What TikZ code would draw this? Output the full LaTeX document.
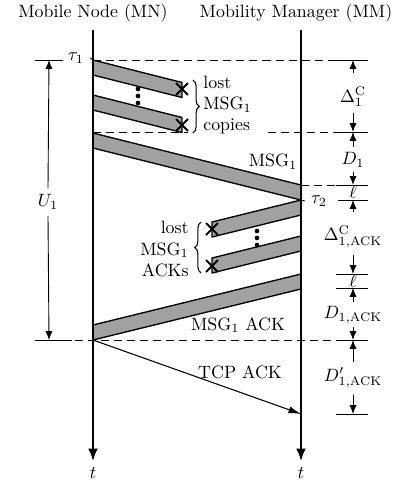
\documentclass[tikz,border=0pt]{standalone}
\usetikzlibrary{arrows.meta,decorations.pathreplacing,shapes.misc}
\begin{document}
\begin{tikzpicture}[x=0.56pt,y=-0.56pt,
  axis/.style={line width=1pt,-{Latex[length=7pt,width=5.5pt]}},
  band/.style={draw=black,fill=black!37,line width=0.75pt,line join=round},
  dline/.style={dash pattern=on 4.5pt off 2.8pt,line width=0.45pt},
  ext/.style={line width=0.5pt},
  dim/.style={line width=0.5pt,-{Latex[length=5pt,width=4pt]}},
  dimlab/.style={inner sep=0pt},
  tcp/.style={line width=0.6pt,-{Latex[length=7pt,width=4pt]}},
  lostx/.style={draw,cross out,line width=1.1pt,minimum size=5.5pt,inner sep=0pt},
  dotm/.style={fill=black,circle,inner sep=0pt,minimum size=2.6pt},
  brc/.style={decorate,decoration={brace,amplitude=3.5pt},line width=0.6pt}
]
\useasboundingbox (0,0) rectangle (406,483);

% titles
\node (mnT) at (93,13) {Mobile Node (MN)};
\node (mmT) at (296,13) {Mobility Manager (MM)};

% axis ends
\coordinate (mn0) at (93,30);
\coordinate (mn1) at (93,461);
\coordinate (mm0) at (301,30);
\coordinate (mm1) at (301,461);
\node (tl) at (93,473) {$t$};
\node (tr) at (301,473) {$t$};

% bands
\draw[band] (93,60) -- (182,82.5) -- (182,97.5) -- (93,75) -- cycle;
\draw[band] (93,95) -- (182,117.5) -- (182,132.5) -- (93,110) -- cycle;
\draw[band] (93,133) -- (301,185) -- (301,200) -- (93,148) -- cycle;
\draw[band] (301,200) -- (212,222) -- (212,237) -- (301,215) -- cycle;
\draw[band] (301,236) -- (212,258) -- (212,273) -- (301,251) -- cycle;
\draw[band] (301,274) -- (93,325) -- (93,340) -- (301,289) -- cycle;

% lost marks
\node[lostx] (x1) at (182,89) {};
\node[lostx] (x2) at (182,125) {};
\node[lostx] (x3) at (212,229) {};
\node[lostx] (x4) at (212,266) {};

% dots
\node[dotm] (da1) at (138,89) {};
\node[dotm] (da2) at (138,96) {};
\node[dotm] (da3) at (138,103) {};
\node[dotm] (db1) at (257,231) {};
\node[dotm] (db2) at (257,238) {};
\node[dotm] (db3) at (257,245) {};

% braces and texts
\draw[brc] (193,80) -- (193,133);
\node[anchor=west,align=left,inner sep=0pt] (lostA) at (203,105) {lost\\MSG$_1$\\copies};
\draw[brc] (201,273) -- (201,222);
\node[anchor=east,align=right,inner sep=0pt] (lostB) at (189,249) {lost\\MSG$_1$\\ACKs};

% message labels
\node (msg1) at (273,162) {MSG$_1$};
\node (msgack) at (238,325) {MSG$_1$ ACK};
\node (tcpack) at (240,372) {TCP ACK};

% TCP ACK arrow
\coordinate (tcpS) at (93,340);
\coordinate (tcpE) at (301,414);
\draw[tcp] (tcpS) -- (tcpE);

% time axes
\draw[axis] (mn0) -- (mn1);
\draw[axis] (mm0) -- (mm1);

% tau labels and dashed lines
\node (tau1) at (76,58) {$\tau_1$};
\draw[ext] (tau1.east) -- (93,60);
\draw[dline] (93,60) -- (336,60);
\draw[dline] (93,132) -- (188,132);
\draw[dline] (268,132) -- (336,132);
\draw[dline] (301,185) -- (336,185);
\node (tau2) at (319,201) {$\tau_2$};
\draw[ext] (301,200) -- (tau2.west);
\draw[dline] (75,340) -- (336,340);

% left extension lines and U1
\draw[ext] (35,60) -- (63,60);
\draw[ext] (35,340) -- (72,340);
\node (u1) at (48,202) {$U_1$};
\draw[dim] (u1.north) -- (49,60);
\draw[dim] (u1.south) -- (49,340);

% right extension lines
\foreach \yy in {60,132,185,274,288,340,414} \draw[ext] (336,\yy) -- (368,\yy);
\draw[ext] (338,200) -- (368,200);

% dimension labels
\node[dimlab] (dc) at (353,97) {$\Delta_1^{\mathrm{C}}$};
\node[dimlab] (d1) at (353,160) {$D_1$};
\node[dimlab] (l1) at (353,192) {$\ell$};
\node[dimlab] (dac) at (353,237) {$\Delta_{1,\mathrm{ACK}}^{\mathrm{C}}$};
\node[dimlab] (l2) at (353,281) {$\ell$};
\node[dimlab] (da) at (353,315) {$D_{1,\mathrm{ACK}}$};
\node[dimlab] (dpa) at (353,378) {$D'_{1,\mathrm{ACK}}$};

\coordinate (dcT) at (353,73);
\coordinate (dcB) at (353,113);
\coordinate (d1T) at (353,147);
\coordinate (d1B) at (353,172);
\coordinate (dacT) at (353,212);
\coordinate (dacB) at (353,255);
\coordinate (daT) at (353,302);
\coordinate (daB) at (353,327);
\coordinate (dpaT) at (353,362);
\coordinate (dpaB) at (353,395);

\draw[dim] (dcT) -- (353,60);
\draw[dim] (dcB) -- (353,132);
\draw[dim] (d1T) -- (353,132);
\draw[dim] (d1B) -- (353,185);
\draw[dim] (dacT) -- (353,200);
\draw[dim] (dacB) -- (353,274);
\draw[dim] (daT) -- (353,288);
\draw[dim] (daB) -- (353,340);
\draw[dim] (dpaT) -- (353,340);
\draw[dim] (dpaB) -- (353,414);
\end{tikzpicture}
\end{document}
